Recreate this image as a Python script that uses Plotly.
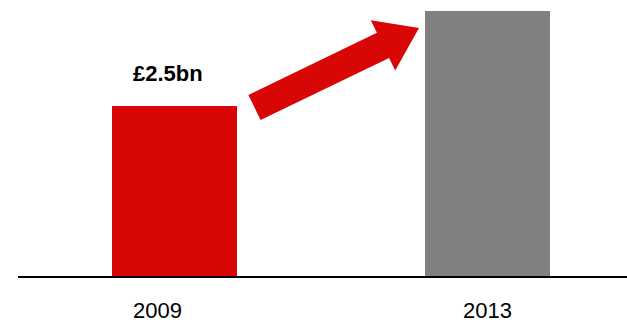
import math
import plotly.graph_objects as go

# Data
years = ["2009", "2013"]
values = [2.5, 3.9]          # £bn
value_labels = ["£2.5bn", ""]
bar_colors = ["#D90606", "#808080"]

W, H = 627, 324
M_L, M_R, M_T, M_B = 18, 0, 0, 48
Y_MAX = 2.5 * 276 / 170
X_RANGE = [-0.5, 1.4457]

FONT = "Liberation Sans, Arial, sans-serif"

fig = go.Figure(
    go.Bar(
        x=list(range(len(years))),
        y=values,
        marker=dict(color=bar_colors, line=dict(width=0)),
        width=0.4,
        hoverinfo="skip",
    )
)

# Year labels under the axis
label_shift = [-17, 0]
for i, yr in enumerate(years):
    fig.add_annotation(
        x=i, y=0, xref="x", yref="y", text=yr, showarrow=False,
        xshift=label_shift[i], yshift=-34, yanchor="middle",
        font=dict(family=FONT, size=22, color="#000000"),
    )

# Value label(s) above bars
for i, (v, t) in enumerate(zip(values, value_labels)):
    if t:
        fig.add_annotation(
            x=i, y=v, xref="x", yref="y", text=f"<b>{t}</b>", showarrow=False,
            xshift=-7, yshift=33, yanchor="middle",
            font=dict(family=FONT, size=22, color="#000000"),
        )

# Growth arrow, built in pixel space then converted to paper coordinates
plot_w = W - M_L - M_R
plot_h = H - M_T - M_B


def to_paper(px, py):
    return (px - M_L) / plot_w, (plot_h + M_T - py) / plot_h


tail = (254.5, 107.5)
tip = (419.0, 28.0)
shaft_w = 28.0
head_w = 56.0
head_len = 40.0

dx, dy = tip[0] - tail[0], tip[1] - tail[1]
L = math.hypot(dx, dy)
ux, uy = dx / L, dy / L
nx, ny = -uy, ux
bx, by = tip[0] - ux * head_len, tip[1] - uy * head_len

pts = [
    (tail[0] + nx * shaft_w / 2, tail[1] + ny * shaft_w / 2),
    (bx + nx * shaft_w / 2, by + ny * shaft_w / 2),
    (bx + nx * head_w / 2, by + ny * head_w / 2),
    tip,
    (bx - nx * head_w / 2, by - ny * head_w / 2),
    (bx - nx * shaft_w / 2, by - ny * shaft_w / 2),
    (tail[0] - nx * shaft_w / 2, tail[1] - ny * shaft_w / 2),
]
path = "M " + " L ".join(f"{a:.5f},{b:.5f}" for a, b in (to_paper(*p) for p in pts)) + " Z"
fig.add_shape(
    type="path", path=path, xref="paper", yref="paper",
    fillcolor="#D90606", line=dict(width=0), layer="above",
)

fig.update_layout(
    width=W, height=H,
    margin=dict(l=M_L, r=M_R, t=M_T, b=M_B, pad=0),
    paper_bgcolor="white", plot_bgcolor="white",
    showlegend=False,
    bargap=0,
    xaxis=dict(
        range=X_RANGE, showticklabels=False, ticks="", showgrid=False,
        zeroline=False, showline=True, linecolor="#000000", linewidth=2,
        fixedrange=True,
    ),
    yaxis=dict(
        range=[0, Y_MAX], visible=False, showgrid=False, zeroline=False,
        fixedrange=True,
    ),
)

fig.write_html("out.html", config={"displayModeBar": False})
